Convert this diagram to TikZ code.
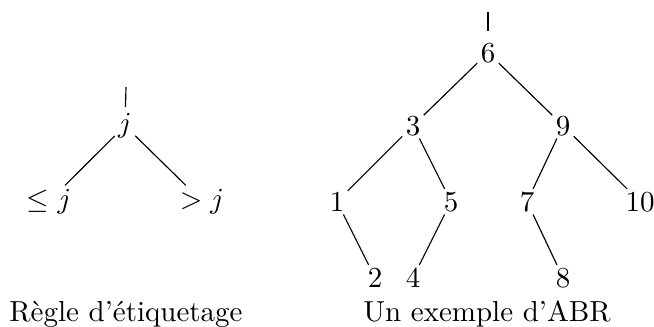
\documentclass[tikz,border=0pt]{standalone}
\begin{document}
\begin{tikzpicture}[x=0.3448pt,y=-0.3448pt,
  tn/.style={anchor=base,inner sep=1pt},
  captext/.style={anchor=base,inner sep=0pt},
  treeline/.style={draw,line width=0.4pt}]
\useasboundingbox (0,0) rectangle (654,327);
% left tree
\node[tn] (j) at (125,132.5) {$j$};
\node[tn] (le) at (49,208) {$\leq j$};
\node[tn] (gt) at (202,208) {$> j$};
\coordinate (jt) at (126,87);
\draw[treeline,shorten >=1pt] (jt) -- (j);
\draw[treeline] (j) -- (le);
\draw[treeline] (j) -- (gt);
\node[captext] (c1) at (126,321) {R\`egle d'\'etiquetage};
% right tree
\node[tn] (n6) at (488,62) {$6$};
\node[tn] (n3) at (413,135) {$3$};
\node[tn] (n9) at (563,135) {$9$};
\node[tn] (n1) at (337,211) {$1$};
\node[tn] (n5) at (451,211) {$5$};
\node[tn] (n7) at (527,211) {$7$};
\node[tn] (n10) at (640,211) {$10$};
\node[tn] (n2) at (375,287) {$2$};
\node[tn] (n4) at (413,287) {$4$};
\node[tn] (n8) at (563,287) {$8$};
\coordinate (rt) at (488,12);
\draw[treeline,shorten >=3pt] (rt) -- (n6);
\draw[treeline] (n6) -- (n3);
\draw[treeline] (n6) -- (n9);
\draw[treeline] (n3) -- (n1);
\draw[treeline] (n3) -- (n5);
\draw[treeline] (n9) -- (n7);
\draw[treeline] (n9) -- (n10);
\draw[treeline] (n1) -- (n2);
\draw[treeline] (n5) -- (n4);
\draw[treeline] (n7) -- (n8);
\node[captext] (c2) at (487,321) {Un exemple d'ABR};
\end{tikzpicture}
\end{document}
